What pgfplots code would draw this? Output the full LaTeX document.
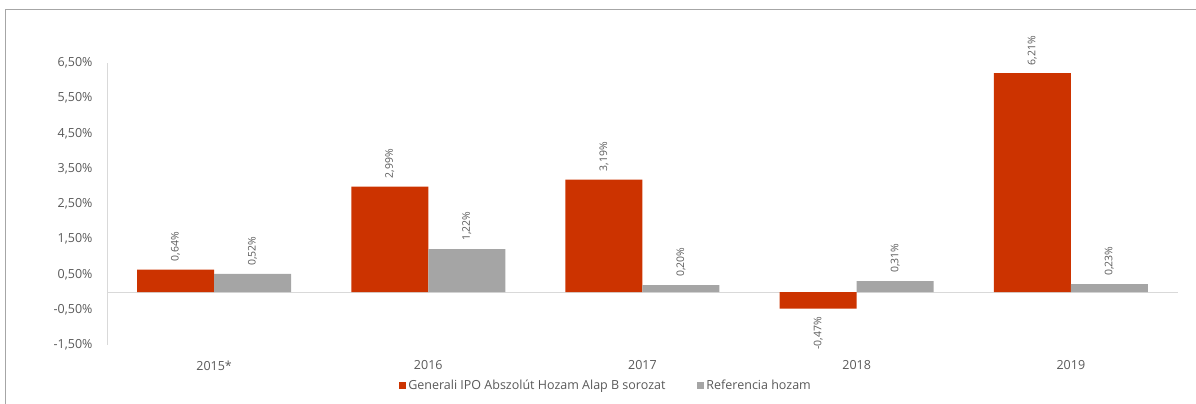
\documentclass[border=0pt]{standalone}
\usepackage{fontspec}
\setmainfont{Open Sans}
\usepackage{pgfplots}
\pgfplotsset{compat=1.18}
\definecolor{gred}{HTML}{CC3300}
\definecolor{ggray}{HTML}{A5A5A5}
\definecolor{axgray}{HTML}{D9D9D9}
\definecolor{txt}{HTML}{595959}
\definecolor{framec}{HTML}{A6A6A6}
\begin{document}
\begin{tikzpicture}[x=1pt,y=1pt]
\useasboundingbox (0,0) rectangle (1196,404);
\draw[framec, line width=1pt] (5,-2) -- (5,394) -- (1198,394);
\begin{axis}[
  at={(107pt,59pt)}, anchor=south west,
  width=1071pt, height=282pt, scale only axis,
  xmin=-0.5, xmax=4.5, ymin=-1.5, ymax=6.5,
  ybar=0pt, bar width=77pt,
  xtick={0,1,2,3,4},
  xticklabels={2015*,2016,2017,2018,2019},
  ytick={-1.5,-0.5,0.5,1.5,2.5,3.5,4.5,5.5,6.5},
  yticklabels={{-1,50\%},{-0,50\%},{0,50\%},{1,50\%},{2,50\%},{3,50\%},{4,50\%},{5,50\%},{6,50\%}},
  axis x line*=bottom, axis y line*=left,
  x axis line style={draw=none},
  y axis line style={draw=axgray, line width=1pt, -},
  major tick length=0pt,
  tick label style={font=\fontsize{12.5}{14}\selectfont, text=txt},
  xticklabel style={yshift=-12pt},
  yticklabel style={xshift=-11pt},
  clip=false,
  nodes near coords={\rotatebox{90}{\pgfmathprintnumber[use comma, fixed, fixed zerofill, precision=2, assume math mode=true]{\pgfplotspointmeta}\%}},
  nodes near coords align=vertical,
  nodes near coords style={font=\fontsize{10.5}{12}\selectfont, text=txt, inner ysep=8pt},
  legend style={at={(0.466,-0.142)}, anchor=center, draw=none, fill=none,
    legend columns=2, font=\fontsize{12.5}{14}\selectfont, text=txt,
    /tikz/every even column/.append style={column sep=30pt}},
]
\draw[axgray, line width=1pt] (axis cs:-0.5,0) -- (axis cs:4.5,0);
\addplot[fill=gred, draw=none,
  legend image code/.code={\fill[gred] (0pt,-3.5pt) rectangle (7pt,3.5pt);}]
  coordinates {(0,0.64) (1,2.99) (2,3.19) (3,-0.47) (4,6.21)};
\addlegendentry{Generali IPO Abszolút Hozam Alap B sorozat}
\addplot[fill=ggray, draw=none,
  legend image code/.code={\fill[ggray] (0pt,-3.5pt) rectangle (7pt,3.5pt);}]
  coordinates {(0,0.52) (1,1.22) (2,0.20) (3,0.31) (4,0.23)};
\addlegendentry{Referencia hozam}
\end{axis}
\end{tikzpicture}
\end{document}
